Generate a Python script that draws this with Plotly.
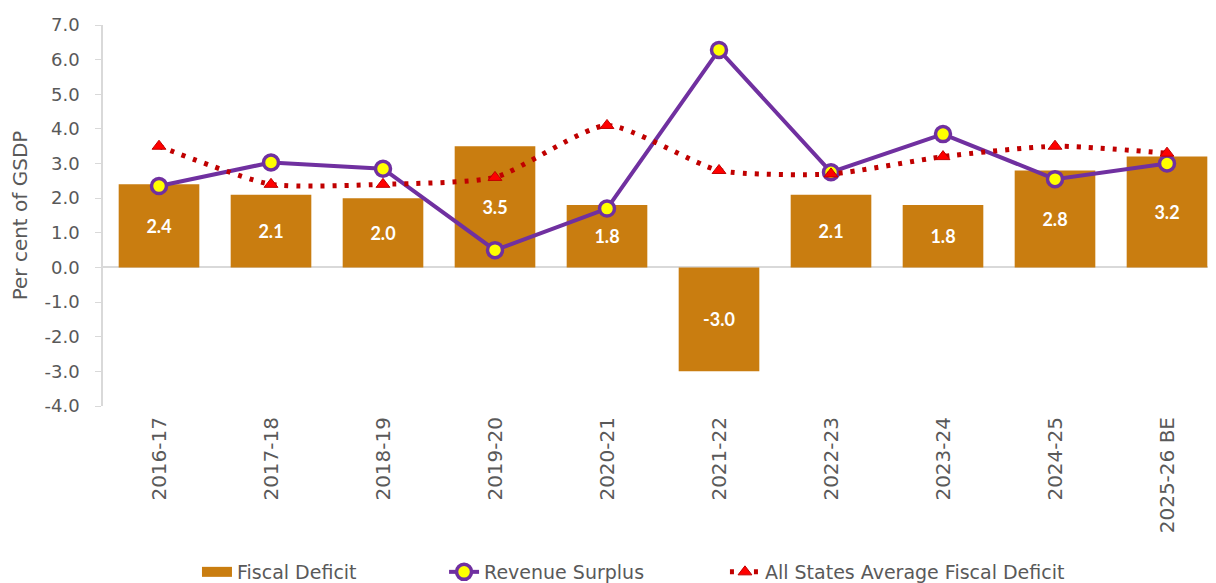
import plotly.graph_objects as go

categories = ["2016-17", "2017-18", "2018-19", "2019-20", "2020-21",
              "2021-22", "2022-23", "2023-24", "2024-25", "2025-26 BE"]
fiscal_deficit = [2.4, 2.1, 2.0, 3.5, 1.8, -3.0, 2.1, 1.8, 2.8, 3.2]
revenue_surplus = [2.35, 3.03, 2.85, 0.5, 1.7, 6.28, 2.75, 3.85, 2.55, 3.0]
all_states_avg = [3.5, 2.4, 2.4, 2.6, 4.1, 2.8, 2.7, 3.2, 3.5, 3.3]
y_ticks = [-4, -3, -2, -1, 0, 1, 2, 3, 4, 5, 6, 7]

FONT = "'DejaVu Sans', sans-serif"
LABEL_FONT = "Lato, 'Open Sans', sans-serif"
GRAY = "#595959"
BAR_COLOR = "#C97D10"

fig = go.Figure()
fig.add_trace(go.Bar(
    x=categories, y=fiscal_deficit, name="Fiscal Deficit",
    marker=dict(color=BAR_COLOR, line=dict(width=0)),
    width=0.72, showlegend=False,
    text=[f"{v:.1f}" for v in fiscal_deficit],
    textposition="inside", insidetextanchor="middle",
    textfont=dict(color="white", size=18, family=LABEL_FONT, weight="bold"),
    textangle=0,
))
# legend-only entry so the bar key is a wide rectangle as in the reference
fig.add_trace(go.Scatter(
    x=[None], y=[None], name="Fiscal Deficit", mode="lines",
    line=dict(color=BAR_COLOR, width=14), legend="legend",
))
fig.add_trace(go.Scatter(
    x=categories, y=revenue_surplus, name="Revenue Surplus",
    mode="lines+markers",
    line=dict(color="#7030A0", width=4),
    marker=dict(symbol="circle", size=15, color="#FFFF00",
                line=dict(color="#7030A0", width=3.5)),
    legend="legend2",
))
fig.add_trace(go.Scatter(
    x=categories, y=all_states_avg, name="All States Average Fiscal Deficit",
    mode="lines+markers",
    line=dict(color="#C00000", width=5, dash="4px,8px", shape="spline", smoothing=0.6),
    marker=dict(symbol="triangle-up", size=12, color="#FF0000",
                line=dict(color="#C00000", width=1)),
    legend="legend3",
))

legend_common = dict(orientation="h", xanchor="left", xref="container",
                     yref="container", y=0.0, yanchor="bottom",
                     font=dict(size=19, color=GRAY, family=FONT),
                     bgcolor="rgba(0,0,0,0)")

fig.update_layout(
    width=1216, height=583,
    margin=dict(l=95, r=1, t=17, b=185),
    plot_bgcolor="white", paper_bgcolor="white",
    font=dict(family=FONT, color=GRAY, size=16),
    showlegend=True,
    legend=dict(x=0.1554, **legend_common),
    legend2=dict(x=0.3586, **legend_common),
    legend3=dict(x=0.5896, **legend_common),
    xaxis=dict(range=[-0.5, 9.5], tickangle=-90, tickfont=dict(size=20, color=GRAY),
               showline=False, showgrid=False, ticks="", ticklabelstandoff=6),
    yaxis=dict(range=[-4, 7], tickvals=y_ticks,
               ticktext=[f"{v:.1f}" for v in y_ticks],
               tickfont=dict(size=18, color=GRAY),
               ticklabelstandoff=12,
               title=dict(text="Per cent of GSDP", font=dict(size=20, color=GRAY), standoff=16),
               automargin=False,
               showgrid=False, showline=True, linecolor="#D9D9D9", linewidth=1.5,
               ticks="outside", tickcolor="#D9D9D9", ticklen=6,
               zeroline=True, zerolinecolor="#D9D9D9", zerolinewidth=2),
)
fig.write_html("out.html")
